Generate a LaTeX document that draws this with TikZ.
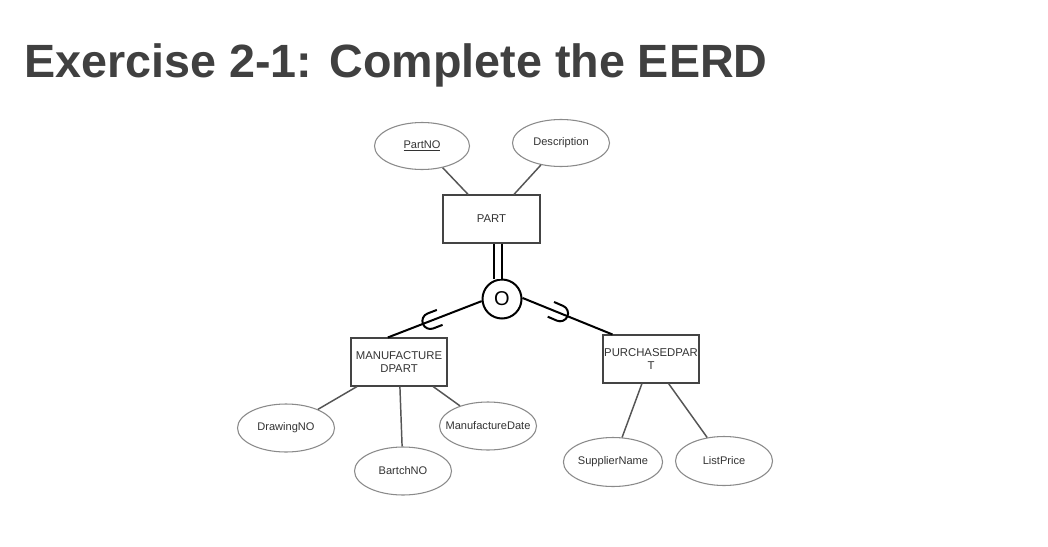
\documentclass[tikz,border=0pt]{standalone}
\usepackage{fontspec}
\setmainfont{Liberation Sans}
\usetikzlibrary{shapes.geometric,calc}
\definecolor{titlegray}{HTML}{404040}
\definecolor{txtgray}{HTML}{333333}
\definecolor{boxgray}{HTML}{444444}
\definecolor{ellgray}{HTML}{8A8A8A}
\definecolor{linegray}{HTML}{555555}
\tikzset{
  entity/.style={draw=boxgray, line width=0.8pt, minimum width=72pt, minimum height=36pt,
    inner sep=0pt, text=txtgray, font=\fontsize{8.5}{9.75}\selectfont, align=center},
  attrib/.style={ellipse, draw=ellgray, line width=0.8pt, minimum width=72.75pt, minimum height=36pt,
    inner sep=0pt, text=txtgray, font=\fontsize{8.3}{9.75}\selectfont},
  attrline/.style={draw=linegray, line width=1.1pt},
  isaline/.style={draw=black, line width=1.5pt},
  disjoint/.style={circle, draw=black, line width=1.5pt, minimum size=29.25pt, inner sep=0pt,
    font=\fontsize{15}{18}\selectfont},
  subsetsym/.pic={\draw[line width=1.5pt] (4pt,6pt) -- (-3.5pt,6pt) arc[start angle=90,end angle=270,radius=6pt] -- (4pt,-6pt);}
}
\begin{document}
\begin{tikzpicture}[x=0.75pt,y=-0.75pt]
\fill[white] (0,0) rectangle (1048,546);
\useasboundingbox (0,0) rectangle (1048,546);

\node[anchor=base west, inner sep=0pt, text=titlegray, font=\fontsize{35}{42}\bfseries\selectfont] (title) at (24,77) {Exercise 2-1: Complete the EERD};

% entities
\node[entity, minimum width=72.75pt] (part) at (491.5,219) {PART};
\node[entity] (mp) at (399,362) {MANUFACTURE\\DPART};
\node[entity] (pp) at (651,359) {PURCHASEDPAR\\T};

% attributes
\node[attrib, minimum width=71.25pt, minimum height=35.25pt] (pn) at (422,146) {\underline{PartNO}};
\node[attrib, minimum height=35.25pt] (desc) at (561,143) {Description};
\node[attrib] (dn) at (286,428) {DrawingNO};
\node[attrib] (bn) at (403,471) {BartchNO};
\node[attrib, inner xsep=-7.5pt] (md) at (488,426) {ManufactureDate};
\node[attrib, minimum height=36.75pt] (sn) at (613,462) {SupplierName};
\node[attrib, minimum height=36.75pt] (lp) at (724,461) {ListPrice};

% disjoint circle
\node[disjoint] (o) at (502,299) {O};

% attribute connectors
\draw[attrline] (pn) -- (part);
\draw[attrline] (desc) -- (part);
\draw[attrline] (mp) -- (dn);
\draw[attrline] (mp) -- (bn);
\draw[attrline] (mp) -- (md);
\draw[attrline] (pp) -- (sn);
\draw[attrline] (pp) -- (lp);

% total participation (double line)
\draw[line width=1.5pt, double, double distance=4.8pt] ([xshift=4.875pt]part.south) -- ([xshift=-3pt,yshift=-0.3pt]o.north);

% ISA connectors
\coordinate (mpt) at ($(mp.north west)!0.385!(mp.north east)$);
\coordinate (ppt) at ([xshift=7.5pt]pp.north west);
\draw[isaline] (o.186) -- coordinate[pos=0.5] (s1) (mpt);
\draw[isaline] (o.3) -- coordinate[pos=0.37] (s2) (ppt);
\pic[rotate=21] at (s1) {subsetsym};
\pic[rotate=156.6] at (s2) {subsetsym};
\end{tikzpicture}
\end{document}
